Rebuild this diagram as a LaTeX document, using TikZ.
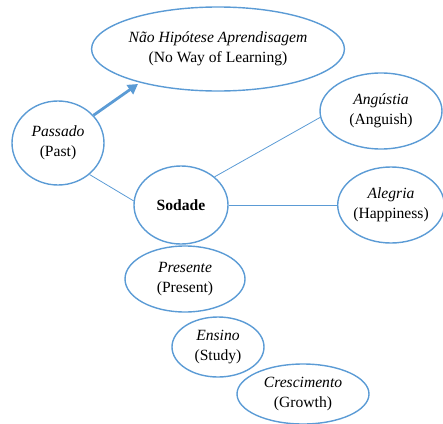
\documentclass[tikz,border=0pt]{standalone}
\usepackage{fontspec}
\setmainfont{Liberation Serif}
\usetikzlibrary{shapes.geometric,arrows.meta}
\definecolor{lineblue}{HTML}{5B9BD5}
\begin{document}
\begin{tikzpicture}[x=1pt,y=-1pt,
  oval/.style={ellipse,draw=lineblue,line width=1.4pt,inner sep=0pt,
    align=center,font=\fontsize{15.6}{20}\selectfont},
  link/.style={draw=lineblue,line width=0.8pt},
  bigarrow/.style={draw=lineblue,line width=2.8pt,
    -{Triangle[length=10pt,width=11pt]}}]
\useasboundingbox (0,0) rectangle (443,423);

\node[oval,minimum width=210pt,minimum height=84pt] (nao) at (218,49)
  {\textit{Não Hipótese Aprendisagem}\\(No Way of Learning)};
\node[oval,minimum width=92pt,minimum height=84pt] (pas) at (58,143)
  {\textit{Passado}\\(Past)};
\node[oval,minimum width=122pt,minimum height=76pt] (ang) at (381,111)
  {\textit{Angústia}\\(Anguish)};
\node[oval,minimum width=94pt,minimum height=78pt] (sod) at (181,205)
  {\textbf{Sodade}};
\node[oval,minimum width=106pt,minimum height=76pt] (ale) at (391,205)
  {\textit{Alegria}\\(Happiness)};
\node[oval,minimum width=120pt,minimum height=66pt] (pre) at (185,279)
  {\textit{Presente}\\(Present)};
\node[oval,minimum width=92pt,minimum height=60pt] (ens) at (218,347)
  {\textit{Ensino}\\(Study)};
\node[oval,minimum width=132pt,minimum height=60pt] (cre) at (303,394)
  {\textit{Crescimento}\\(Growth)};

\coordinate (tip) at (138,84);
\draw[bigarrow] (pas.38) -- (tip);
\draw[link] (pas.-45) -- (sod.175);
\draw[link] (sod.40) -- (ang.186);
\draw[link] (sod.east) -- (ale.west);
\end{tikzpicture}
\end{document}
